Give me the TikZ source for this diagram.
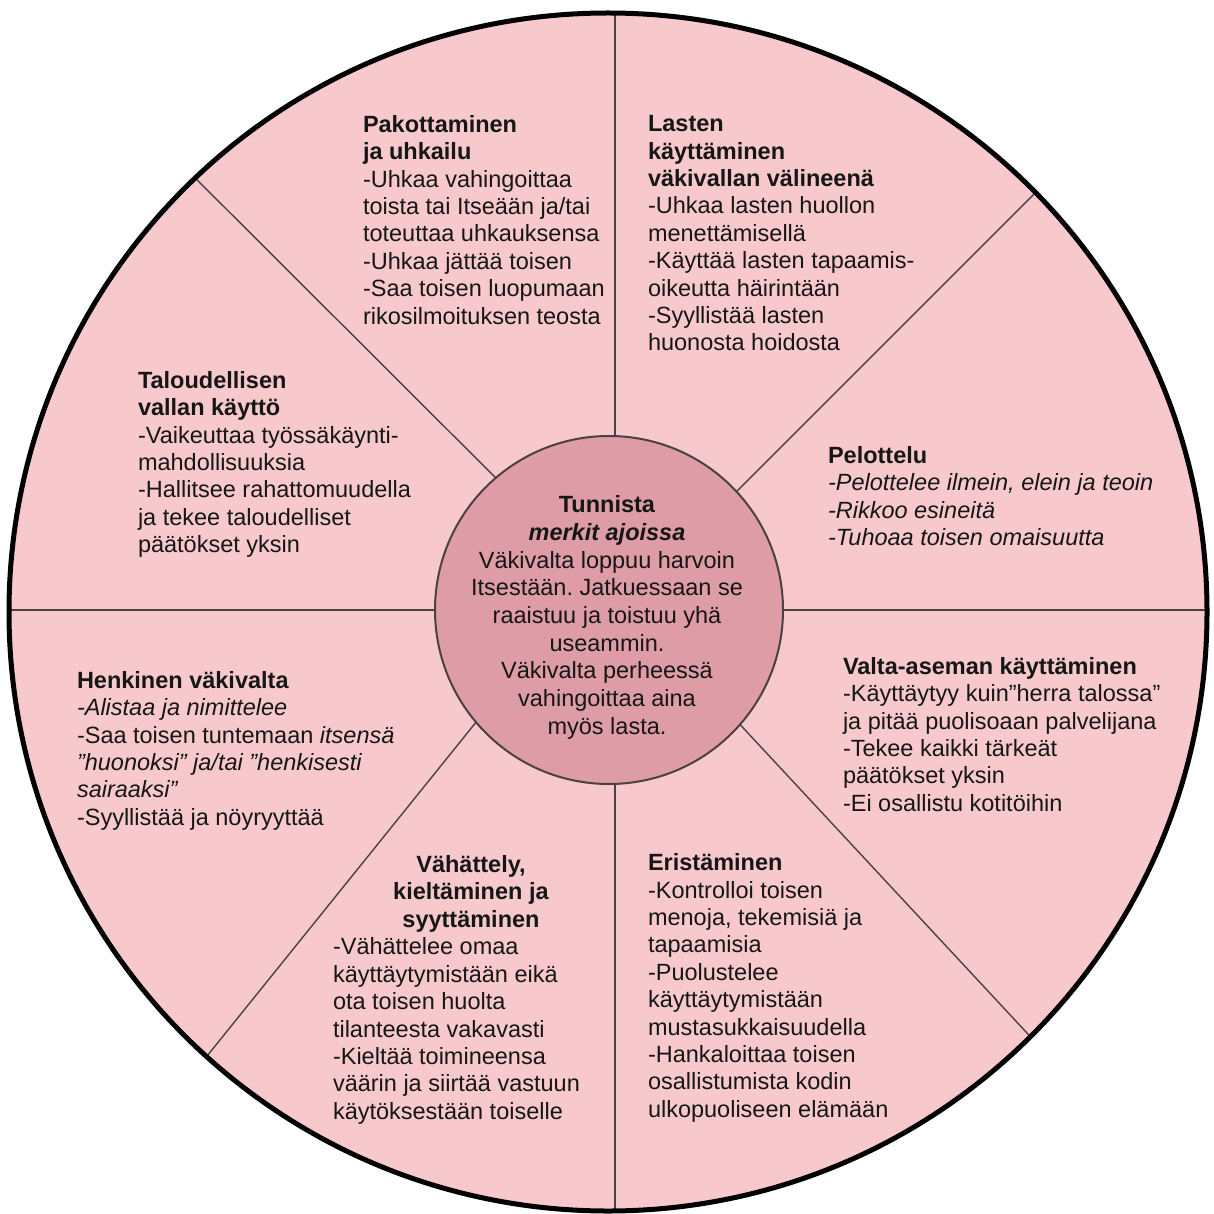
\documentclass[tikz,border=0pt]{standalone}
\usepackage{fontspec}
\setmainfont{Liberation Sans}
\frenchspacing
\definecolor{outerpink}{RGB}{247,201,205}
\definecolor{innerpink}{RGB}{221,156,166}
\definecolor{spokecol}{RGB}{75,65,68}
\definecolor{txt}{RGB}{22,22,22}
\tikzset{
  blk/.style={anchor=north west, align=left, inner sep=0pt, outer sep=0pt, text=txt,
    font=\fontsize{23.5}{27.4}\selectfont},
  blkc/.style={anchor=north, align=center, inner sep=0pt, outer sep=0pt, text=txt,
    font=\fontsize{23.5}{27.4}\selectfont},
  ctr/.style={anchor=north, align=center, inner sep=0pt, outer sep=0pt, text=txt,
    font=\fontsize{23.5}{27.7}\selectfont},
  spokeline/.style={draw=spokecol, line width=1.4pt},
}
\begin{document}
\begin{tikzpicture}[x=1pt,y=-1pt]
\useasboundingbox (0,0) rectangle (1214,1214);
\fill[white] (0,0) rectangle (1214,1214);
% outer disc
\fill[outerpink] (608,612) circle (599);
% spokes clipped to the disc
\begin{scope}
  \clip (608,612) circle (599);
  \coordinate (vt) at (615,0);
  \coordinate (vb) at (615,1214);
  \coordinate (hl) at (0,610);
  \coordinate (hr) at (1214,610);
  \coordinate (ulo) at (120,103);
  \coordinate (uli) at (560,542);
  \coordinate (uro) at (1120,108);
  \coordinate (uri) at (660,568);
  \coordinate (lro) at (1120,1133);
  \coordinate (lri) at (680,660);
  \coordinate (llo) at (120,1164);
  \coordinate (lli) at (560,618);
  \draw[spokeline] (vt) -- (vb);
  \draw[spokeline] (hl) -- (hr);
  \draw[spokeline] (ulo) -- (uli);
  \draw[spokeline] (uro) -- (uri);
  \draw[spokeline] (lro) -- (lri);
  \draw[spokeline] (llo) -- (lli);
\end{scope}
% inner circle
\node[circle, draw=spokecol, line width=2pt, fill=innerpink, minimum size=348pt, inner sep=0pt] (hub) at (609,610) {};
% outer border
\draw[black, line width=5pt] (608,612) circle (599);

% texts
\node[blk] (pak) at (363,113.1) {\strut\textbf{Pakottaminen}\\
\textbf{ja uhkailu}\\
-Uhkaa vahingoittaa\\
toista tai Itseään ja/tai\\
toteuttaa uhkauksensa\\
-Uhkaa jättää toisen\\
-Saa toisen luopumaan\\
rikosilmoituksen teosta};

\node[blk] (las) at (648,112.5) {\strut\textbf{Lasten}\\
\textbf{käyttäminen}\\
\textbf{väkivallan välineenä}\\
-Uhkaa lasten huollon\\
menettämisellä\\
-Käyttää lasten tapaamis-\\
oikeutta häirintään\\
-Syyllistää lasten\\
huonosta hoidosta};

\node[blk] (tal) at (138,369.1) {\strut\textbf{Taloudellisen}\\
\textbf{vallan käyttö}\\
-Vaikeuttaa työssäkäynti-\\
mahdollisuuksia\\
-Hallitsee rahattomuudella\\
ja tekee taloudelliset\\
päätökset yksin};

\node[blk] (pel) at (828,444.1) {\strut\textbf{Pelottelu}\\
\textit{-Pelottelee ilmein, elein ja teoin}\\
\textit{-Rikkoo esineitä}\\
\textit{-Tuhoaa toisen omaisuutta}};

\node[blk] (hen) at (77,669.1) {\strut\textbf{Henkinen väkivalta}\\
\textit{-Alistaa ja nimittelee}\\
-Saa toisen tuntemaan \textit{itsensä}\\
\textit{"huonoksi" ja/tai "henkisesti}\\
\textit{sairaaksi"}\\
-Syyllistää ja nöyryyttää};

\node[blk] (val) at (843,655.1) {\strut\textbf{Valta-aseman käyttäminen}\\
-Käyttäytyy kuin"herra talossa"\\
ja pitää puolisoaan palvelijana\\
-Tekee kaikki tärkeät\\
päätökset yksin\\
-Ei osallistu kotitöihin};

\node[blkc] (vahh) at (471,853.1) {\strut\textbf{Vähättely,}\\
\textbf{kieltäminen ja}\\
\textbf{syyttäminen}};
\node[blk] (vahb) at (333,935.8) {\strut -Vähättelee omaa\\
käyttäytymistään eikä\\
ota toisen huolta\\
tilanteesta vakavasti\\
-Kieltää toimineensa\\
väärin ja siirtää vastuun\\
käytöksestään toiselle};

\node[blk] (eri) at (648,851.5) {\strut\textbf{Eristäminen}\\
-Kontrolloi toisen\\
menoja, tekemisiä ja\\
tapaamisia\\
-Puolustelee\\
käyttäytymistään\\
mustasukkaisuudella\\
-Hankaloittaa toisen\\
osallistumista kodin\\
ulkopuoliseen elämään};

\node[ctr] (cen) at (607,493.3) {\strut\textbf{Tunnista}\\
\textbf{\textit{merkit ajoissa}}\\
Väkivalta loppuu harvoin\\
Itsestään. Jatkuessaan se\\
raaistuu ja toistuu yhä\\
useammin.\\
Väkivalta perheessä\\
vahingoittaa aina\\
myös lasta.};
\end{tikzpicture}
\end{document}
